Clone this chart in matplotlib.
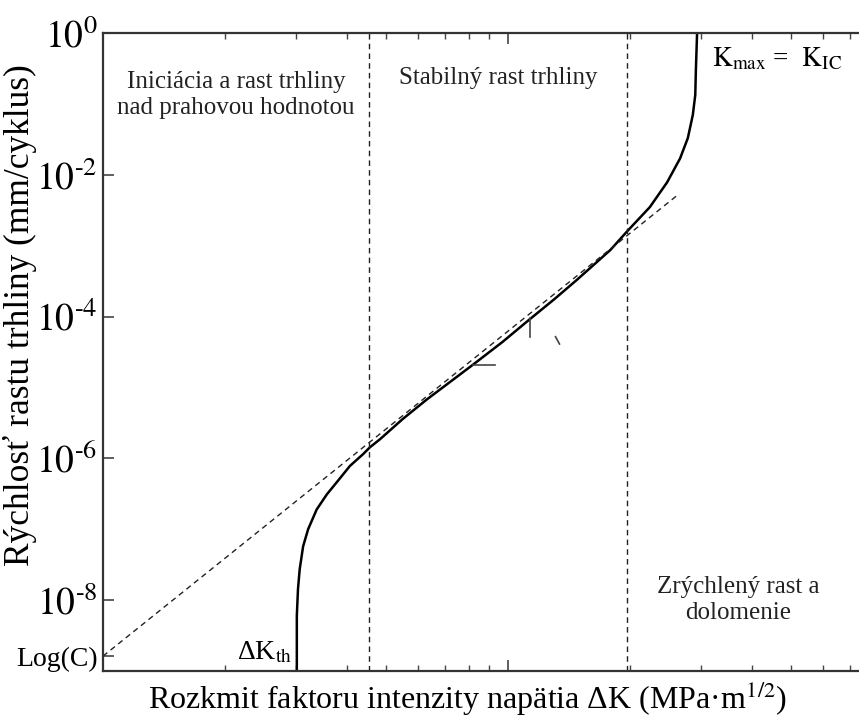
import numpy as np
import matplotlib
matplotlib.use("Agg")
import matplotlib.pyplot as plt
from matplotlib.ticker import LogLocator, NullLocator, NullFormatter, FixedLocator

# crack growth curve (dK, da/dN)
dk_curve = [3.01, 3.01, 3.03, 3.06, 3.12, 3.21, 3.37, 3.57, 3.80, 4.07, 4.39, 4.56,
            4.83, 5.50, 6.31, 7.20, 8.20, 9.70, 11.3, 13.0, 14.8, 17.9, 19.7, 22.4,
            24.7, 26.6, 27.8, 28.6, 29.0, 29.1, 29.3]
dadn_curve = [1.0e-9, 6.0e-9, 1.43e-8, 2.74e-8, 5.75e-8, 1.0e-7, 1.9e-7, 3.1e-7, 4.8e-7,
              7.8e-7, 1.15e-6, 1.43e-6, 1.86e-6, 3.6e-6, 6.8e-6, 1.2e-5, 2.1e-5, 4.4e-5,
              9.1e-5, 1.75e-4, 3.3e-4, 8.7e-4, 1.6e-3, 3.5e-3, 7.8e-3, 1.7e-2, 3.3e-2,
              7.0e-2, 0.134, 0.30, 1.0]

# Paris law line (dashed)
paris_dk = [1.0, 26.1]
paris_dadn = [1.62e-9, 5.06e-3]
log_c = 1.62e-9

# region boundaries
region_bounds = [4.55, 19.7]

# leftover slope-triangle marks
tri_h_x = [8.2, 9.3]
tri_h_y = [2.1e-5, 2.1e-5]
tri_v_x = [11.33, 11.33]
tri_v_y = [9.4e-5, 5.2e-5]
tick_x = [13.1, 13.4]
tick_y = [5.2e-5, 4.1e-5]

ytick_vals = [1e0, 1e-2, 1e-4, 1e-6, 1e-8, log_c]
ytick_labels = ["$10^{0}$", "$10^{\u2010 2}$", "$10^{\u2010 4}$", "$10^{\u2010 6}$",
                "$10^{\u2010 8}$", "Log(C)"]

plt.rcParams['font.family'] = ['Liberation Serif', 'DejaVu Serif']
plt.rcParams['mathtext.fontset'] = 'stix'

W, H = 859, 717
fig = plt.figure(figsize=(W / 100, H / 100), dpi=100)
ax = fig.add_axes([103 / W, (H - 671) / H, 810 / W, 638 / H])

ink = '#222222'
ax.plot(dk_curve, dadn_curve, color='black', lw=1.8)
ax.plot(paris_dk, paris_dadn, color=ink, lw=1.0, ls=(0, (4, 3)))
for xb in region_bounds:
    ax.axvline(xb, color=ink, lw=1.0, ls=(0, (4, 3)))
ax.plot(tri_h_x, tri_h_y, color='#444444', lw=1.2)
ax.plot(tri_v_x, tri_v_y, color='#444444', lw=1.2)
ax.plot(tick_x, tick_y, color='#444444', lw=1.2)

ax.set_xscale('log')
ax.set_yscale('log')
ax.set_xlim(1, 100)
ax.set_ylim(1e-9, 1)

ax.xaxis.set_major_locator(LogLocator(base=10))
ax.xaxis.set_minor_locator(LogLocator(base=10, subs=np.arange(2, 10)))
ax.xaxis.set_major_formatter(NullFormatter())
ax.xaxis.set_minor_formatter(NullFormatter())
ax.yaxis.set_major_locator(FixedLocator(ytick_vals))
ax.yaxis.set_minor_locator(NullLocator())
ax.set_yticklabels(ytick_labels)
for lab in ax.get_yticklabels():
    lab.set_fontsize(20 if lab.get_text() == "Log(C)" else 27)

ax.tick_params(axis='x', which='major', direction='in', length=8, width=1.2,
               top=True, bottom=True, color='#444444')
ax.tick_params(axis='x', which='minor', direction='in', length=4, width=1.0,
               top=True, bottom=True, color='#444444')
ax.tick_params(axis='y', which='major', direction='in', length=8, width=1.2,
               pad=4, color='#444444', labelcolor='black')
for s in ax.spines.values():
    s.set_linewidth(1.6)
    s.set_color('#333333')

# annotations
ax.text(2.13, 0.134, "Iniciácia a rast trhliny\nnad prahovou hodnotou",
        ha='center', va='center', fontsize=18, color='#222222')
ax.text(9.45, 0.232, "Stabilný rast trhliny", ha='center', va='center',
        fontsize=18, color='#222222')
ax.text(31.9, 0.44, r"$\mathrm{K_{max}}$ =  $\mathrm{K_{IC}}$", ha='left',
        va='center', fontsize=19.5, color='black')
ax.text(37, 1.0e-8, "Zrýchlený rast a\ndolomenie", ha='center', va='center',
        fontsize=18, color='#222222')
ax.text(2.93, 1.2e-9, r"ΔK$_{\mathrm{th}}$", ha='right', va='bottom',
        fontsize=20, color='black')

fig.text(468 / W, 1 - 709 / H, r"Rozkmit faktoru intenzity napätia ΔK (MPa·m$^{1/2}$)",
         ha='center', va='baseline', fontsize=23)
fig.text(20 / W, 1 - 315 / H, "Rýchlosť rastu trhliny (mm/cyklus)",
         ha='center', va='center', rotation=90, fontsize=25.5)

fig.savefig("out.png", dpi=100)
